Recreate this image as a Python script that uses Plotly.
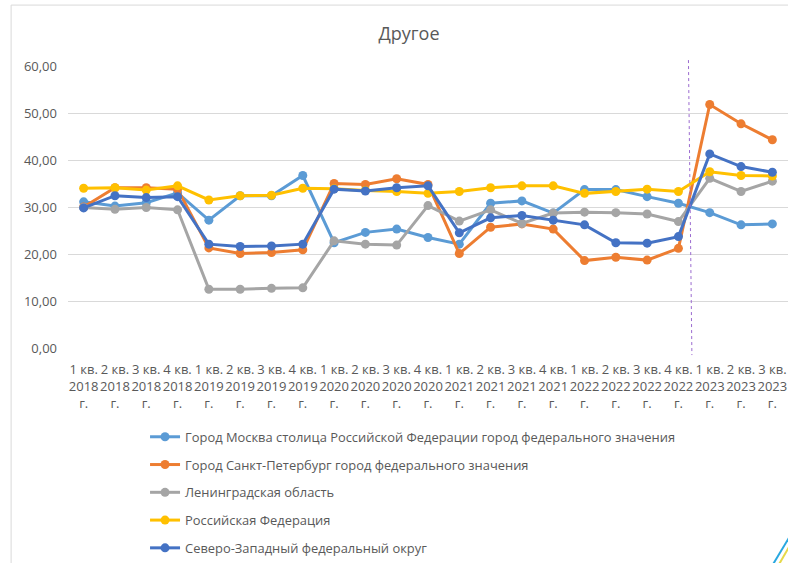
import plotly.graph_objects as go

quarters = ["1 кв.", "2 кв.", "3 кв.", "4 кв."]
years = ["2018", "2019", "2020", "2021", "2022", "2023"]
categories = []
for y in years:
    for q in quarters:
        categories.append(f"{q}<br>{y}<br>г.")
categories = categories[:23]

series_names = [
    "Город Москва столица Российской Федерации город федерального значения",
    "Город Санкт-Петербург город федерального значения",
    "Ленинградская область",
    "Российская Федерация",
    "Северо-Западный федеральный округ",
]

moscow = [31.1, 30.2, 30.9, 33.0, 27.2, 32.4, 32.4, 36.7, 22.4, 24.6, 25.3, 23.5,
          22.1, 30.8, 31.3, 28.7, 33.7, 33.7, 32.2, 30.8, 28.8, 26.2, 26.4]
spb = [30.0, 34.1, 34.1, 33.8, 21.3, 20.1, 20.3, 20.9, 35.0, 34.8, 36.0, 34.8,
       20.1, 25.7, 26.4, 25.3, 18.6, 19.3, 18.7, 21.2, 51.8, 47.7, 44.3]
leningrad = [29.9, 29.5, 29.9, 29.4, 12.5, 12.5, 12.7, 12.8, 22.8, 22.1, 21.9, 30.3,
             27.0, 29.4, 26.5, 28.7, 28.9, 28.8, 28.5, 26.9, 36.1, 33.3, 35.5]
russia = [34.0, 34.1, 33.6, 34.5, 31.5, 32.4, 32.5, 34.0, 33.9, 33.5, 33.3, 32.9,
          33.3, 34.1, 34.5, 34.5, 32.9, 33.3, 33.8, 33.3, 37.5, 36.7, 36.6]
nwfd = [29.8, 32.4, 32.0, 32.2, 22.1, 21.6, 21.7, 22.1, 33.8, 33.4, 34.1, 34.5,
        24.5, 27.7, 28.2, 27.2, 26.2, 22.4, 22.3, 23.7, 41.3, 38.6, 37.4]

colors = ["#5B9BD5", "#ED7D31", "#A5A5A5", "#FFC000", "#4472C4"]
all_values = [moscow, spb, leningrad, russia, nwfd]

FONT = "Open Sans"
TXT = "#595959"

fig = go.Figure()
for i, (name, vals, col) in enumerate(zip(series_names, all_values, colors)):
    fig.add_trace(go.Scatter(
        x=categories, y=vals, name=name, mode="lines+markers",
        line=dict(color=col, width=3),
        marker=dict(color=col, size=9),
        legendgroup=f"g{i}",
    ))

fig.update_layout(
    width=788, height=563,
    margin=dict(l=68, r=0, t=66, b=215, autoexpand=False),
    paper_bgcolor="white", plot_bgcolor="white",
    separators=", ",
    font=dict(family=FONT, color=TXT, size=13),
    title=dict(text="Другое", x=409 / 788, xref="container", xanchor="center",
               y=1 - 34 / 563, yref="container", yanchor="middle",
               font=dict(family=FONT, size=18, color=TXT)),
    showlegend=True,
    legend=dict(orientation="v", x=0.107, xanchor="left", y=-0.262, yanchor="top",
                font=dict(family=FONT, size=12.9, color=TXT),
                tracegroupgap=8, itemwidth=30, bgcolor="rgba(0,0,0,0)"),
    xaxis=dict(type="category", showgrid=False, showline=False, zeroline=False,
               tickangle=0, tickfont=dict(family=FONT, size=13, color=TXT),
               range=[-0.5, 22.5], ticks="", ticklabelstandoff=12, automargin=False),
    yaxis=dict(range=[0, 60], dtick=10, tickformat=".2f", showgrid=True,
               gridcolor="#D9D9D9", gridwidth=1, zeroline=False, showline=False,
               tickfont=dict(family=FONT, size=13, color=TXT), ticklabelstandoff=10,
               automargin=False),
)

# vertical dashed separator
fig.add_shape(type="line", xref="x", yref="paper", x0=19.32, x1=19.43,
              y0=1.021, y1=-0.025, line=dict(color="#9B6BD0", width=1, dash="dot"))
# chart border
fig.add_shape(type="rect", xref="paper", yref="paper", x0=-0.079, x1=1.2,
              y0=-1.0, y1=1.216, line=dict(color="#D9D9D9", width=1), layer="below")

# small corner decoration (bottom-right)
def px_x(p):
    return (p - 68) / 720
def px_y(p):
    return (348 - p) / 282
fig.add_shape(type="line", xref="paper", yref="paper", x0=px_x(772), y0=px_y(566),
              x1=px_x(790), y1=px_y(536), line=dict(color="#29A8E0", width=2))
fig.add_shape(type="line", xref="paper", yref="paper", x0=px_x(778), y0=px_y(566),
              x1=px_x(792), y1=px_y(542), line=dict(color="#E6D94A", width=2))

fig.write_html("out.html", config={"displayModeBar": False},
               post_script="document.body.style.margin='0px';")
